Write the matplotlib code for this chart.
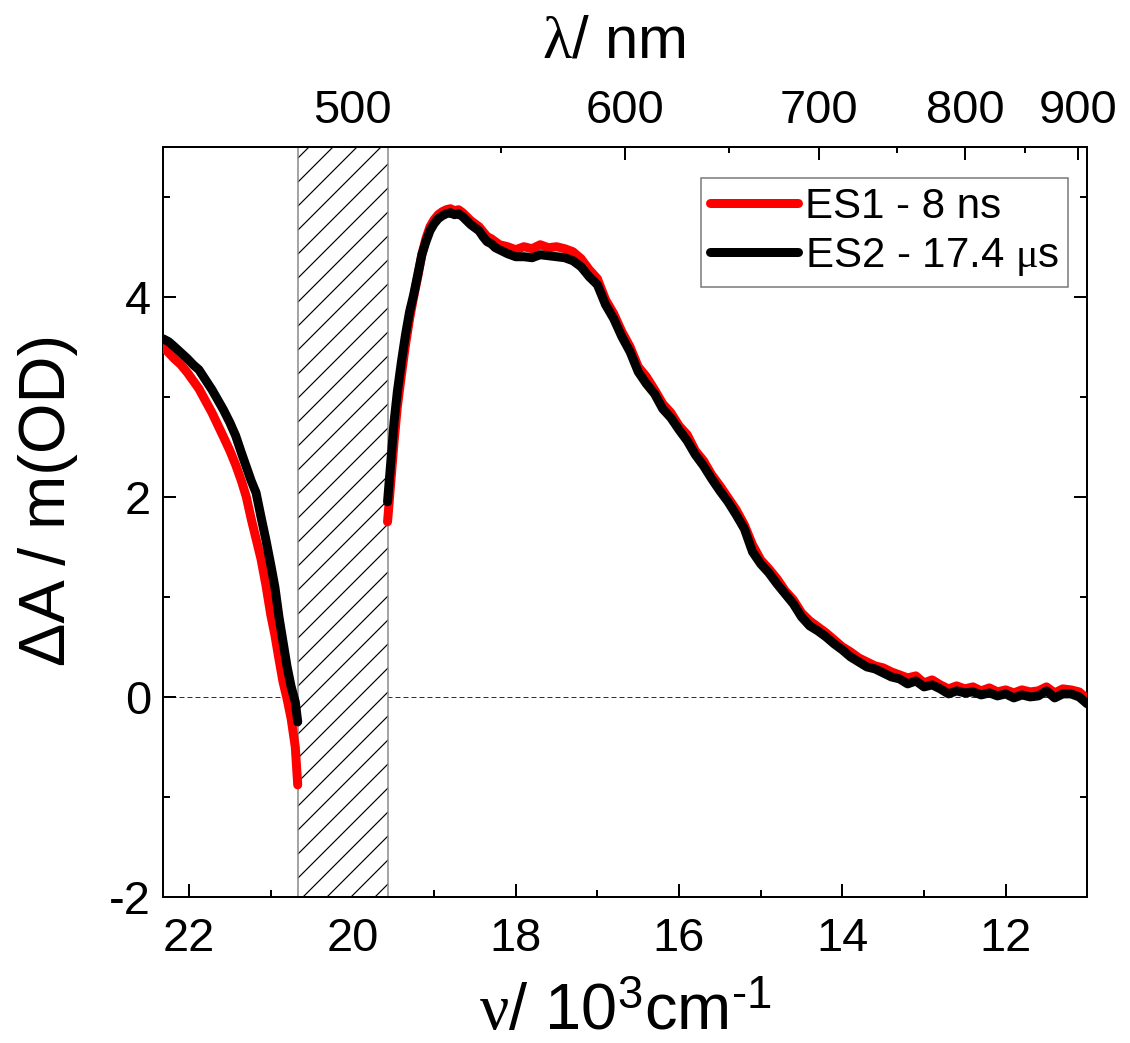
import numpy as np
import matplotlib
matplotlib.use('Agg')
import matplotlib.pyplot as plt
from matplotlib.ticker import MultipleLocator, FixedLocator

# wavenumber (10^3 cm^-1) and dA (mOD), blue side of the blocked region
nu_left = [22.32, 22.25, 22.18, 22.10, 22.02, 21.95, 21.88, 21.80, 21.72, 21.65,
           21.58, 21.50, 21.43, 21.36, 21.30, 21.24, 21.18, 21.12, 21.06, 21.00,
           20.95, 20.90, 20.85, 20.80, 20.75, 20.70, 20.67]
es1_left = [3.50, 3.44, 3.38, 3.32, 3.24, 3.16, 3.08, 2.96, 2.84, 2.72,
            2.60, 2.46, 2.32, 2.16, 2.00, 1.78, 1.58, 1.38, 1.12, 0.82,
            0.62, 0.38, 0.15, -0.02, -0.22, -0.50, -0.88]
es2_left = [3.58, 3.55, 3.50, 3.44, 3.38, 3.32, 3.27, 3.17, 3.07, 2.97,
            2.87, 2.74, 2.61, 2.44, 2.30, 2.16, 2.04, 1.80, 1.57, 1.32,
            1.10, 0.80, 0.55, 0.30, 0.10, -0.05, -0.25]

# red side of the blocked region
nu_right = [19.57, 19.53, 19.49, 19.45, 19.40, 19.35, 19.30, 19.25, 19.20, 19.15,
            19.10, 19.05, 19.00, 18.95, 18.90, 18.85, 18.80, 18.75, 18.70, 18.65,
            18.60, 18.55, 18.50, 18.45, 18.40, 18.35, 18.30, 18.25, 18.20, 18.10,
            18.00, 17.90, 17.80, 17.70, 17.60, 17.50, 17.40, 17.30, 17.20, 17.10,
            17.00, 16.90, 16.80, 16.70, 16.60, 16.50, 16.40, 16.30, 16.20, 16.10,
            16.00, 15.90, 15.80, 15.70, 15.60, 15.50, 15.40, 15.30, 15.20, 15.10,
            15.00, 14.90, 14.80, 14.70, 14.60, 14.50, 14.40, 14.30, 14.20, 14.10,
            14.00, 13.90, 13.80, 13.70, 13.60, 13.50, 13.40, 13.30, 13.20, 13.10,
            13.00, 12.90, 12.80, 12.70, 12.60, 12.50, 12.40, 12.30, 12.20, 12.10,
            12.00, 11.90, 11.80, 11.70, 11.60, 11.50, 11.40, 11.30, 11.20, 11.10,
            11.00]
es1_right = [1.75, 2.15, 2.55, 2.90, 3.22, 3.52, 3.78, 4.00, 4.20, 4.42,
             4.58, 4.70, 4.77, 4.82, 4.85, 4.87, 4.88, 4.86, 4.87, 4.84,
             4.80, 4.76, 4.73, 4.70, 4.65, 4.60, 4.58, 4.55, 4.52, 4.50,
             4.47, 4.50, 4.48, 4.52, 4.49, 4.50, 4.48, 4.45, 4.38, 4.27,
             4.18, 3.97, 3.83, 3.65, 3.50, 3.30, 3.20, 3.07, 2.93, 2.84,
             2.71, 2.62, 2.46, 2.36, 2.22, 2.11, 1.99, 1.87, 1.72, 1.52,
             1.37, 1.28, 1.18, 1.06, 0.97, 0.84, 0.76, 0.70, 0.64, 0.57,
             0.50, 0.45, 0.39, 0.35, 0.31, 0.29, 0.25, 0.22, 0.19, 0.21,
             0.14, 0.17, 0.12, 0.08, 0.11, 0.08, 0.10, 0.06, 0.09, 0.05,
             0.07, 0.04, 0.07, 0.05, 0.06, 0.10, 0.04, 0.08, 0.07, 0.05,
             -0.02]
es2_right = [1.95, 2.35, 2.75, 3.05, 3.35, 3.62, 3.85, 4.02, 4.22, 4.42,
             4.55, 4.66, 4.73, 4.78, 4.81, 4.83, 4.84, 4.82, 4.83, 4.80,
             4.76, 4.72, 4.69, 4.66, 4.60, 4.55, 4.53, 4.49, 4.47, 4.43,
             4.40, 4.40, 4.39, 4.42, 4.41, 4.40, 4.39, 4.36, 4.30, 4.20,
             4.12, 3.92, 3.78, 3.60, 3.45, 3.25, 3.13, 3.03, 2.88, 2.79,
             2.67, 2.56, 2.42, 2.31, 2.18, 2.06, 1.95, 1.82, 1.68, 1.45,
             1.33, 1.24, 1.13, 1.03, 0.93, 0.80, 0.71, 0.66, 0.60, 0.53,
             0.47, 0.40, 0.35, 0.30, 0.28, 0.24, 0.20, 0.18, 0.13, 0.16,
             0.10, 0.12, 0.08, 0.03, 0.06, 0.04, 0.05, 0.02, 0.04, 0.01,
             0.03, -0.01, 0.02, 0.00, 0.01, 0.06, -0.01, 0.03, 0.03, 0.00,
             -0.07]

gap = [20.67, 19.57]
nm_major = [500, 600, 700, 800, 900]
nm_minor = [550, 650, 750, 850]

plt.rcParams['font.family'] = ['Liberation Sans', 'DejaVu Sans']
plt.rcParams['mathtext.fontset'] = 'custom'
plt.rcParams['mathtext.rm'] = 'Liberation Sans'
plt.rcParams['mathtext.it'] = 'Liberation Serif'
plt.rcParams['axes.unicode_minus'] = False
plt.rcParams['hatch.linewidth'] = 1.2

fig = plt.figure(figsize=(1130 / 72, 1043 / 72), dpi=72)
ax = fig.add_axes([0.14425, 0.1400, 0.81796, 0.71937])

ax.axhline(0, color='#333333', lw=1, ls=(0, (5, 3)), zorder=1)
ax.axvspan(gap[0], gap[1], facecolor='white', edgecolor='black', hatch='/', lw=0, zorder=2)
ax.axvspan(gap[0], gap[1], facecolor='none', edgecolor='#888888', lw=1.5, zorder=2)

ax.plot(nu_left, es1_left, color='red', lw=9, solid_capstyle='round', label='ES1 - 8 ns', zorder=3)
ax.plot(nu_right, es1_right, color='red', lw=9, solid_capstyle='round', zorder=3)
ax.plot(nu_left, es2_left, color='black', lw=9, solid_capstyle='round', label=r'ES2 - 17.4 $\mu$s', zorder=4)
ax.plot(nu_right, es2_right, color='black', lw=9, solid_capstyle='round', zorder=4)

ax.set_xlim(22.32, 11.0)
ax.set_ylim(-2, 5.5)
ax.set_xticks([22, 20, 18, 16, 14, 12])
ax.xaxis.set_minor_locator(MultipleLocator(1))
ax.set_yticks([-2, 0, 2, 4])
ax.yaxis.set_minor_locator(MultipleLocator(1))
ax.tick_params(which='both', direction='in', width=2, top=False, right=True, labelsize=47)
ax.tick_params(which='major', length=13)
ax.tick_params(which='minor', length=7)
ax.tick_params(axis='x', pad=20)
ax.tick_params(axis='y', pad=12)
for s in ax.spines.values():
    s.set_linewidth(2)

ax.set_xlabel(r'$\nu$/ 10$^3$cm$^{\text{-1}}$', fontsize=65, labelpad=22)
ax.set_ylabel('ΔA / m(OD)', fontsize=65, labelpad=31)
ax.yaxis.label.set_y(0.529)


def to_nm(v):
    v = np.asarray(v, dtype=float)
    with np.errstate(divide='ignore'):
        return 1e4 / v


sec = ax.secondary_xaxis('top', functions=(to_nm, to_nm))
sec.set_xticks(nm_major)
sec.xaxis.set_minor_locator(FixedLocator(nm_minor))
sec.tick_params(which='both', direction='in', width=2, labelsize=47, pad=14)
sec.tick_params(which='major', length=13)
sec.tick_params(which='minor', length=6)
sec.spines['top'].set_linewidth(2)
sec.set_xlabel(r'$\lambda$/ nm', fontsize=60, labelpad=31)
sec.xaxis.label.set_x(0.488)

leg = ax.legend(loc='upper right', bbox_to_anchor=(0.979, 0.9587), fontsize=42,
                fancybox=False, edgecolor='#777777', framealpha=1,
                handlelength=2.1, handletextpad=0.15, labelspacing=0.22,
                borderaxespad=0, borderpad=0.22)
leg.get_frame().set_linewidth(1.5)

plt.savefig('out.png', dpi=72)
